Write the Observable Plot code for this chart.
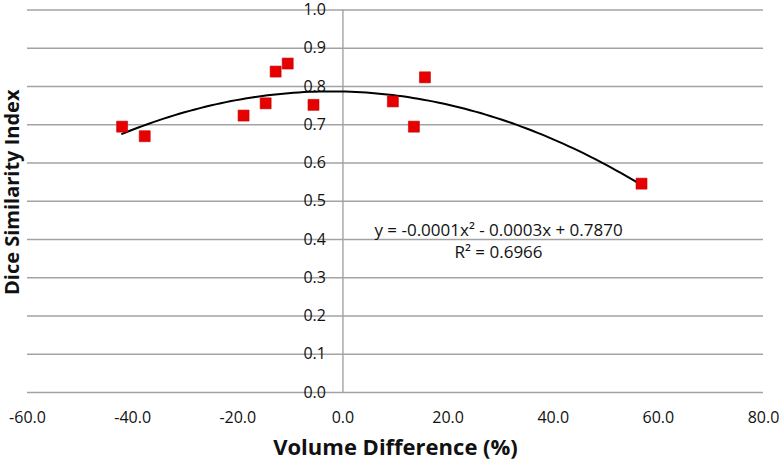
<!DOCTYPE html>
<html><head><meta charset="utf-8">
<script src="https://cdn.jsdelivr.net/npm/d3@7"></script>
<script src="https://cdn.jsdelivr.net/npm/@observablehq/plot@0.6"></script>
<style>body{margin:0;background:#fff}</style>
</head><body><div id="chart"></div>
<script>
const volumeDiff = [-42.0, -37.7, -18.9, -14.7, -12.8, -10.5, -5.6, 9.5, 13.5, 15.6, 56.8];
const diceIndex  = [0.695, 0.670, 0.724, 0.756, 0.839, 0.860, 0.752, 0.761, 0.695, 0.824, 0.546];
const xTicks = [-60, -40, -20, 0, 20, 40, 60, 80];
const yTicks = [0, 0.1, 0.2, 0.3, 0.4, 0.5, 0.6, 0.7, 0.8, 0.9, 1.0];
const equationLabel = "y = -0.0001x² - 0.0003x + 0.7870";
const r2Label = "R² = 0.6966";
const xTitle = "Volume Difference (%)";
const yTitle = "Dice Similarity Index";

const points = volumeDiff.map((v, i) => ({x: v, y: diceIndex[i]}));

// Least-squares quadratic trendline (as the spreadsheet's polynomial trendline)
function quadFit(xs, ys) {
  const S = k => d3.sum(xs, x => x ** k);
  const T = k => d3.sum(xs, (x, i) => x ** k * ys[i]);
  const A = [[S(4), S(3), S(2)], [S(3), S(2), S(1)], [S(2), S(1), xs.length]];
  const B = [T(2), T(1), T(0)];
  const det = m => m[0][0]*(m[1][1]*m[2][2]-m[1][2]*m[2][1]) - m[0][1]*(m[1][0]*m[2][2]-m[1][2]*m[2][0]) + m[0][2]*(m[1][0]*m[2][1]-m[1][1]*m[2][0]);
  const D = det(A);
  const col = j => A.map((row, i) => row.map((v, k) => k === j ? B[i] : v));
  return [det(col(0)) / D, det(col(1)) / D, det(col(2)) / D];
}
const [qa, qb, qc] = quadFit(volumeDiff, diceIndex);
const [xMin, xMax] = d3.extent(volumeDiff);
const trend = d3.range(0, 101).map(i => {
  const x = xMin + (xMax - xMin) * i / 100;
  return {x, y: qa * x * x + qb * x + qc};
});

const grid = "#a3a3a3";
const chart = Plot.plot({
  width: 780,
  height: 463,
  marginLeft: 27,
  marginRight: 17,
  marginTop: 9.5,
  marginBottom: 71,
  style: {fontFamily: "Open Sans", fontSize: "16px", color: "#111", background: "#fff"},
  x: {domain: [-60, 80], ticks: xTicks},
  y: {domain: [0, 1], ticks: yTicks},
  marks: [
    Plot.gridY(yTicks, {stroke: grid, strokeOpacity: 1, strokeWidth: 1.4}),
    Plot.ruleX([0], {stroke: grid, strokeWidth: 1.4}),
    Plot.axisX(xTicks, {tickSize: 0, tickPadding: 19, fontSize: 16, tickFormat: d => d.toFixed(1), label: null}),
    Plot.axisY({ticks: [], label: null, tickSize: 0}),
    Plot.text(yTicks, {x: 0, y: d => d, text: d => d.toFixed(1), textAnchor: "end", dx: -17, fontSize: 16, fill: "#111"}),
    Plot.line(trend, {x: "x", y: "y", stroke: "#000", strokeWidth: 2}),
    Plot.dot(points, {x: "x", y: "y", symbol: "square", r: 6.2, fill: "#e60000", stroke: "#c40000", strokeWidth: 0.6}),
    Plot.text([`${equationLabel}\n${r2Label}`], {x: 29.6, y: 0.40, lineHeight: 1.3, fontSize: 17, textAnchor: "middle", fill: "#111"}),
    Plot.text([xTitle], {frameAnchor: "bottom", textAnchor: "middle", lineAnchor: "middle", dy: 55.7, fontSize: 22, fontWeight: "bold", fill: "#111"}),
    Plot.text([yTitle], {frameAnchor: "left", textAnchor: "middle", lineAnchor: "middle", rotate: -90, dx: -14.5, dy: -9, fontSize: 20, fontWeight: "bold", fill: "#111"})
  ]
});
document.getElementById("chart").appendChild(chart);
</script>
</body></html>
